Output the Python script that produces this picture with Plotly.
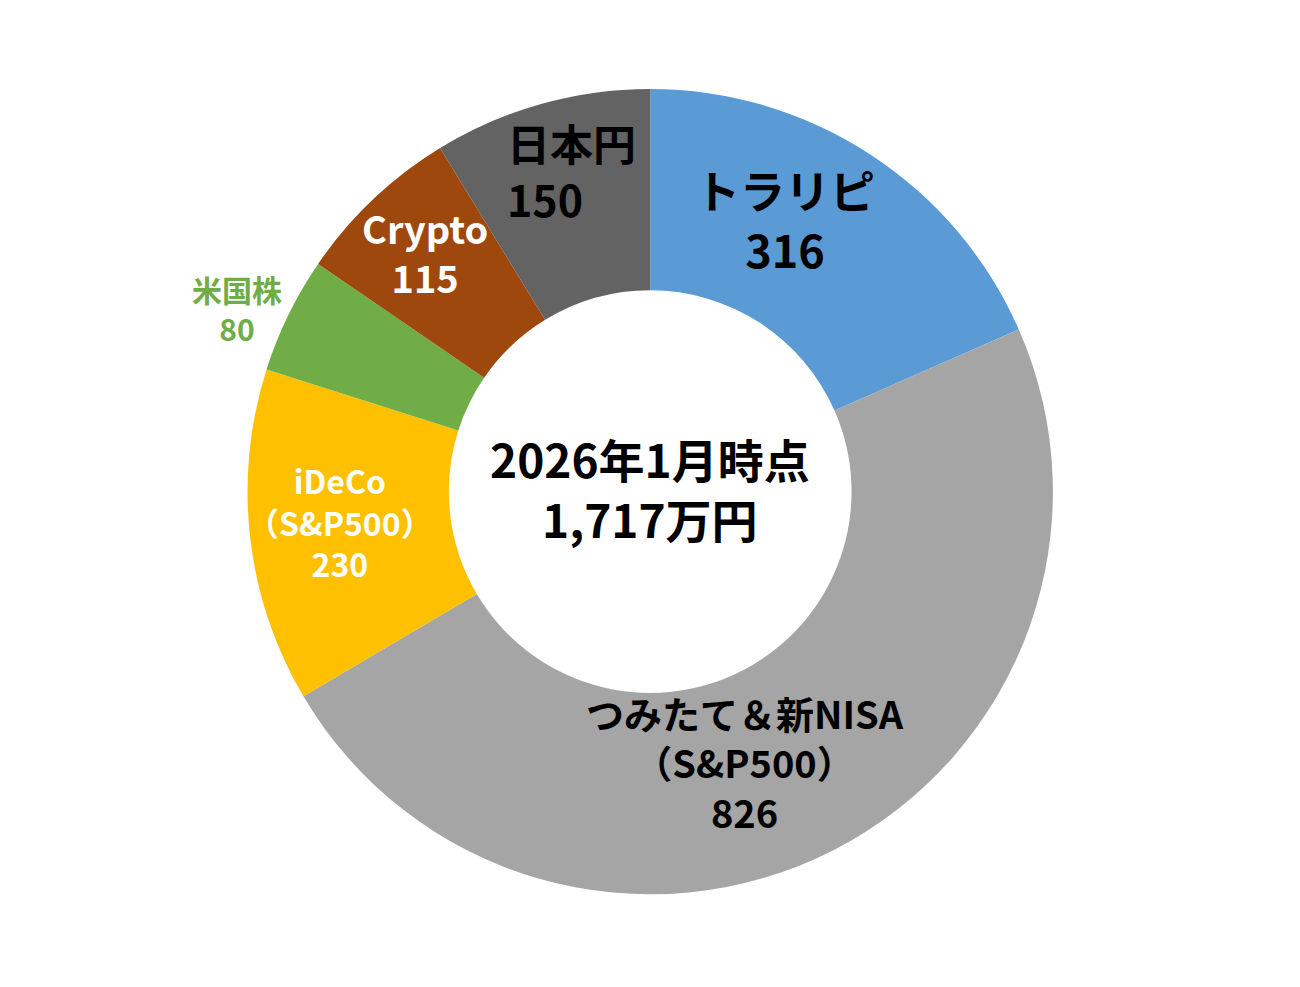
import plotly.graph_objects as go

# 資産内訳（万円）
labels = ["トラリピ", "つみたて＆新NISA<br>（S&P500）", "iDeCo<br>（S&P500）", "米国株", "Crypto", "日本円"]
values = [316, 826, 230, 80, 115, 150]
colors = ["#5B9BD5", "#A5A5A5", "#FFC000", "#70AD47", "#9E480E", "#636363"]
center_text = "2026年1月時点<br>1,717万円"

# ラベルの見た目と置き場所（paper座標）
text_colors = ["black", "black", "white", "#70AD47", "white", "black"]
text_sizes = [45, 38, 32, 30, 38, 43]
label_x = [0.598, 0.567, 0.255, 0.176, 0.321, 0.382]
label_y = [0.786, 0.236, 0.480, 0.696, 0.753, 0.836]
label_anchor = ["center", "center", "center", "center", "center", "left"]
label_align = ["center", "center", "center", "center", "center", "left"]

FONT = "Noto Sans CJK JP"

fig = go.Figure()
fig.add_trace(go.Pie(
    labels=labels,
    values=values,
    hole=0.5,
    sort=False,
    direction="clockwise",
    rotation=0,
    marker=dict(colors=colors, line=dict(width=0)),
    textinfo="none",
    hoverinfo="label+value",
    domain=dict(x=[0.184, 0.804], y=[0.102, 0.918]),
    showlegend=False,
))

for i in range(len(labels)):
    fig.add_annotation(
        x=label_x[i], y=label_y[i], xref="paper", yref="paper",
        xanchor=label_anchor[i], yanchor="middle", align=label_align[i],
        text=f"{labels[i]}<br>{values[i]}", showarrow=False,
        font=dict(size=text_sizes[i], color=text_colors[i], family=FONT, weight="bold"),
    )

fig.add_annotation(
    x=0.494, y=0.514, xref="paper", yref="paper",
    xanchor="center", yanchor="middle",
    text=center_text, showarrow=False,
    font=dict(size=46, color="black", family=FONT, weight="bold"),
)

fig.update_layout(
    width=1300, height=987,
    margin=dict(l=0, r=0, t=0, b=0),
    paper_bgcolor="white",
    plot_bgcolor="white",
)

fig.write_html("out.html")
